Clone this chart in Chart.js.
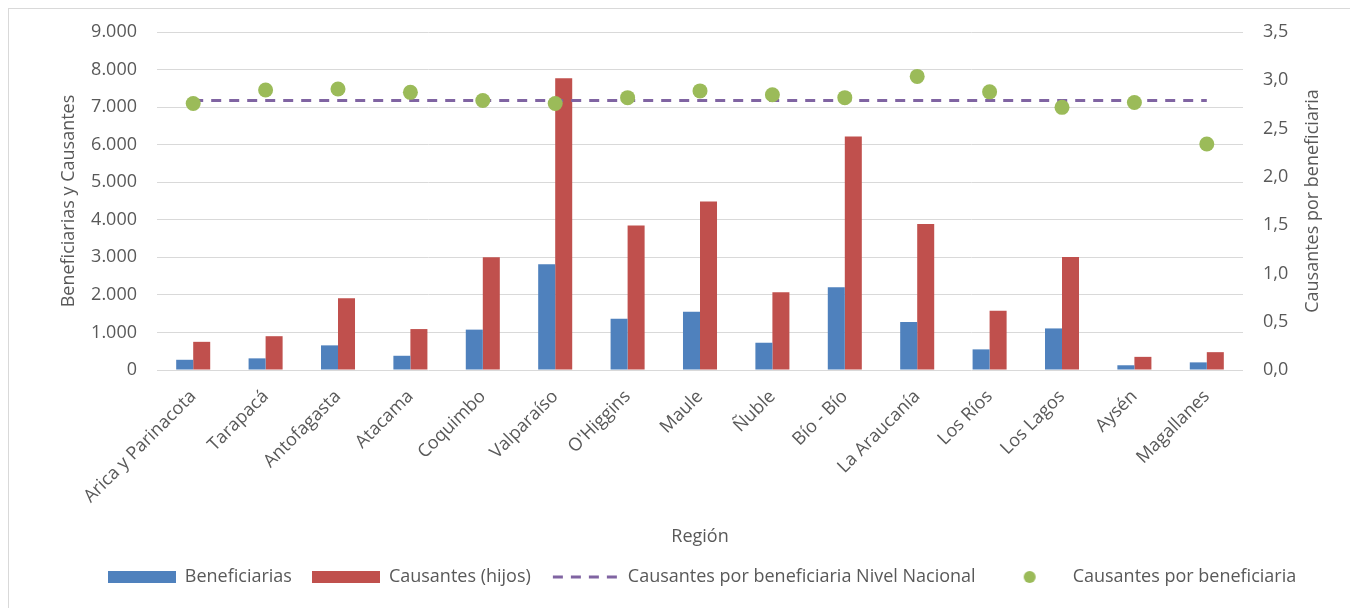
<!DOCTYPE html>
<html>
<head>
<meta charset="utf-8">
<script src="https://cdn.jsdelivr.net/npm/chart.js@4.4.1/dist/chart.umd.min.js"></script>
<style>
  html, body { margin: 0; padding: 0; background: #ffffff; overflow: hidden; }
  #wrap { position: relative; width: 1350px; height: 608px; }
  #frame { position: absolute; left: 8px; top: 8px; width: 1400px; height: 700px; border: 1px solid #d9d9d9; pointer-events: none; box-sizing: border-box; }
  canvas { position: absolute; left: 0; top: 0; }
</style>
</head>
<body>
<div id="wrap">
  <canvas id="c" width="1350" height="608"></canvas>
  <div id="frame"></div>
</div>
<script>
// ---- Data ----
const regiones = ["Arica y Parinacota", "Tarapacá", "Antofagasta", "Atacama", "Coquimbo", "Valparaíso", "O'Higgins", "Maule", "Ñuble", "Bío - Bío", "La Araucanía", "Los Ríos", "Los Lagos", "Aysén", "Magallanes"];
const beneficiarias = [272, 310, 656, 379, 1075, 2815, 1365, 1554, 726, 2204, 1278, 549, 1107, 126, 203];
const causantes = [750, 900, 1910, 1090, 3000, 7770, 3850, 4490, 2070, 6215, 3885, 1580, 3010, 350, 475];
const causantesPorBeneficiaria = [2.76, 2.90, 2.91, 2.875, 2.79, 2.76, 2.82, 2.89, 2.85, 2.82, 3.04, 2.88, 2.72, 2.77, 2.34];
const nivelNacional = 2.79;
const nivelNacionalSerie = regiones.map(() => nivelNacional);
const leftTicks = [0, 1000, 2000, 3000, 4000, 5000, 6000, 7000, 8000, 9000];
const rightTicks = [0, 0.5, 1.0, 1.5, 2.0, 2.5, 3.0, 3.5];

const BLUE = '#4F81BD', RED = '#C0504D', PURPLE = '#8064A2', GREEN = '#9BBB59', TXT = '#595959', GRID = '#d9d9d9';
const FONT = "'Open Sans', 'Noto Sans', sans-serif";

Chart.defaults.font.family = FONT;
Chart.defaults.font.size = 18;
Chart.defaults.color = TXT;

function icon(draw) {
  const cv = document.createElement('canvas');
  cv.width = 68; cv.height = 14;
  const g = cv.getContext('2d');
  draw(g);
  return cv;
}
const iconBlue = icon(g => { g.fillStyle = BLUE; g.fillRect(0, 1, 68, 12); });
const iconRed = icon(g => { g.fillStyle = RED; g.fillRect(0, 1, 68, 12); });
const iconDash = icon(g => { g.strokeStyle = PURPLE; g.lineWidth = 3; g.setLineDash([10, 8]); g.beginPath(); g.moveTo(2, 7); g.lineTo(68, 7); g.stroke(); });
const iconDot = icon(g => { g.fillStyle = GREEN; g.beginPath(); g.arc(34, 7, 6, 0, Math.PI * 2); g.fill(); });

const fmtThousands = v => String(v).replace(/\B(?=(\d{3})+(?!\d))/g, '.');
const fmtDecimal = v => Number(v).toFixed(1).replace('.', ',');

const rightTitle = {
  id: 'rightTitle',
  afterDraw(chart) {
    const s = chart.scales.y2;
    const ctx = chart.ctx;
    ctx.save();
    ctx.translate(s.right - 37, (s.top + s.bottom) / 2);
    ctx.rotate(-Math.PI / 2);
    ctx.font = '18px ' + FONT;
    ctx.fillStyle = TXT;
    ctx.textAlign = 'center';
    ctx.textBaseline = 'middle';
    ctx.fillText('Causantes por beneficiaria', 0, 0);
    ctx.restore();
  }
};

new Chart(document.getElementById('c'), {
  type: 'bar',
  data: {
    labels: regiones,
    datasets: [
      { type: 'bar', label: 'Beneficiarias', data: beneficiarias, backgroundColor: BLUE, yAxisID: 'y', order: 2, categoryPercentage: 0.47, barPercentage: 1.0 },
      { type: 'bar', label: 'Causantes (hijos)', data: causantes, backgroundColor: RED, yAxisID: 'y', order: 3, categoryPercentage: 0.47, barPercentage: 1.0 },
      { type: 'line', label: 'Causantes por beneficiaria Nivel Nacional', data: nivelNacionalSerie, borderColor: PURPLE, borderWidth: 3, borderDash: [10, 8], pointRadius: 0, fill: false, yAxisID: 'y2', order: 1 },
      { type: 'line', label: 'Causantes por beneficiaria', data: causantesPorBeneficiaria, showLine: false, pointRadius: 7.5, pointBackgroundColor: GREEN, pointBorderColor: GREEN, pointBorderWidth: 0, backgroundColor: GREEN, borderColor: GREEN, yAxisID: 'y2', order: 0 }
    ]
  },
  options: {
    responsive: false,
    animation: false,
    devicePixelRatio: 1,
    layout: { padding: { left: 54, right: 0, top: 32, bottom: 12 } },
    plugins: {
      tooltip: { enabled: false },
      legend: {
        position: 'bottom',
        labels: {
          usePointStyle: true,
          pointStyleWidth: 68,
          boxHeight: 12,
          padding: 20,
          color: TXT,
          font: { size: 18, family: FONT },
          generateLabels: () => [
            { text: 'Beneficiarias', pointStyle: iconBlue, fillStyle: BLUE, strokeStyle: 'transparent', lineWidth: 0, hidden: false, datasetIndex: 0, fontColor: TXT },
            { text: 'Causantes (hijos)', pointStyle: iconRed, fillStyle: RED, strokeStyle: 'transparent', lineWidth: 0, hidden: false, datasetIndex: 1, fontColor: TXT },
            { text: 'Causantes por beneficiaria Nivel Nacional', pointStyle: iconDash, fillStyle: PURPLE, strokeStyle: 'transparent', lineWidth: 0, hidden: false, datasetIndex: 2, fontColor: TXT },
            { text: 'Causantes por beneficiaria', pointStyle: iconDot, fillStyle: GREEN, strokeStyle: 'transparent', lineWidth: 0, hidden: false, datasetIndex: 3, fontColor: TXT }
          ]
        }
      }
    },
    scales: {
      x: {
        type: 'category',
        offset: true,
        grid: { display: false, drawTicks: false },
        border: { display: false },
        ticks: { autoSkip: false, minRotation: 45, maxRotation: 45, padding: 16, color: TXT, font: { size: 18 } },
        title: { display: true, text: 'Región', color: TXT, font: { size: 18 }, padding: { top: 0, bottom: 0 } },
        afterFit: s => { s.height = 178; }
      },
      y: {
        position: 'left',
        min: 0, max: 9000,
        afterBuildTicks: s => { s.ticks = leftTicks.map(v => ({ value: v })); },
        grid: { color: GRID, lineWidth: 1, drawTicks: false },
        border: { display: false },
        ticks: { padding: 20, color: TXT, font: { size: 18 }, callback: v => fmtThousands(v) },
        title: { display: true, text: 'Beneficiarias y Causantes', color: TXT, font: { size: 18 }, padding: { top: 4, bottom: 4 } },
        afterFit: s => { s.width = 103; }
      },
      y2: {
        position: 'right',
        min: 0, max: 3.5,
        afterBuildTicks: s => { s.ticks = rightTicks.map(v => ({ value: v })); },
        grid: { display: false, drawTicks: false },
        border: { display: false },
        ticks: { padding: 20, color: TXT, font: { size: 18 }, callback: v => fmtDecimal(v) },
        afterFit: s => { s.width = 107; }
      }
    }
  },
  plugins: [rightTitle]
});
</script>
</body>
</html>
